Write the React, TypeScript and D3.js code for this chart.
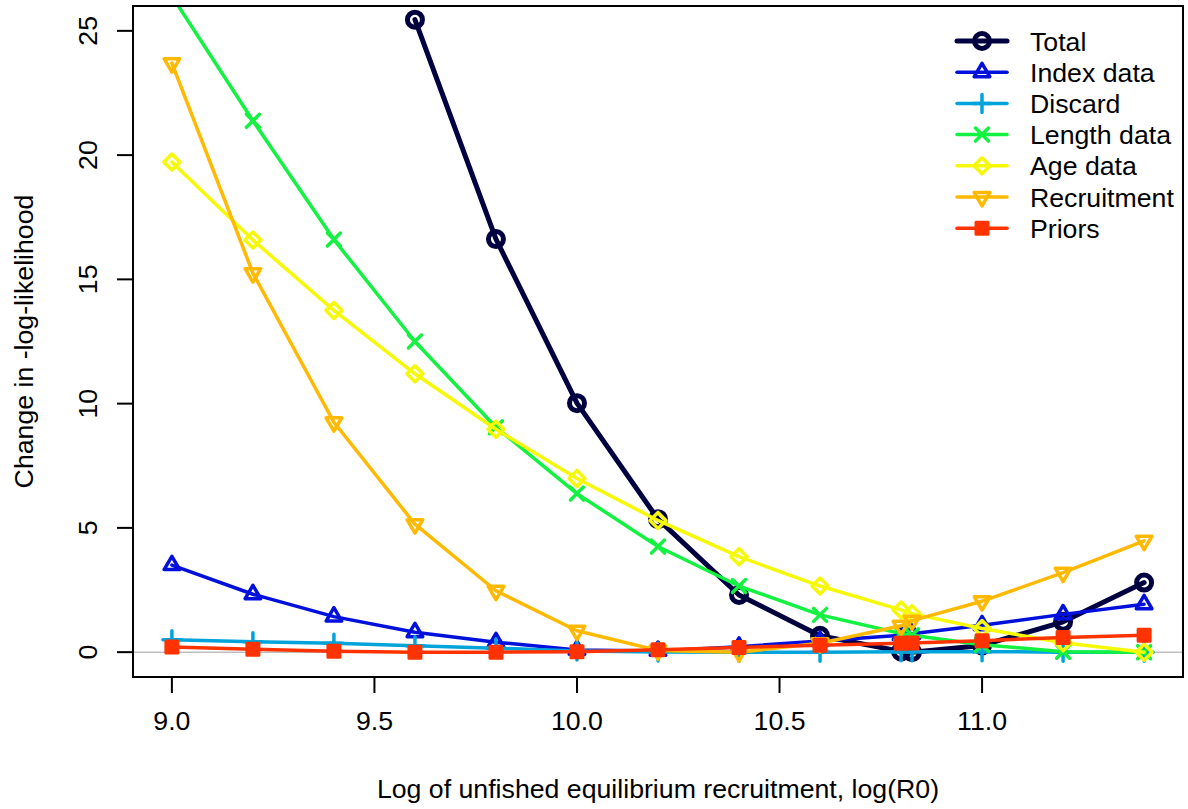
import React from "react";
import * as d3 from "d3";

// ---------- data ----------
const xValues = [9.0, 9.2, 9.4, 9.6, 9.8, 10.0, 10.2, 10.4, 10.6, 10.8, 10.827, 11.0, 11.2, 11.4];

const totalValues: (number | null)[] = [null, null, null, 25.45, 16.62, 10.02, 5.35, 2.3, 0.66, 0.03, 0.0, 0.27, 1.22, 2.8];
const indexValues = [3.5, 2.33, 1.43, 0.8, 0.4, 0.09, 0.05, 0.22, 0.45, 0.68, 0.74, 1.08, 1.52, 1.93];
const discardValues = [0.5, 0.42, 0.36, 0.26, 0.16, 0.05, 0.01, 0.0, 0.0, 0.02, 0.02, 0.02, 0.0, 0.0];
const lengthValues = [26.4, 21.38, 16.6, 12.5, 9.05, 6.38, 4.25, 2.66, 1.5, 0.75, 0.68, 0.3, 0.02, 0.0];
const ageValues = [19.72, 16.58, 13.75, 11.2, 8.97, 6.99, 5.3, 3.84, 2.66, 1.7, 1.55, 0.95, 0.38, 0.0];
const recruitmentValues = [23.7, 15.25, 9.25, 5.15, 2.47, 0.86, 0.07, 0.0, 0.36, 1.06, 1.27, 2.05, 3.2, 4.48];
const priorsValues = [0.21, 0.12, 0.04, 0.0, 0.0, 0.02, 0.1, 0.19, 0.28, 0.36, 0.37, 0.46, 0.59, 0.68];

const seriesNames = ["Total", "Index data", "Discard", "Length data", "Age data", "Recruitment", "Priors"];
const seriesColors = ["#000040", "#0010DB", "#00A4DB", "#13F240", "#F6F905", "#FFB900", "#FF3300"];
const seriesMarkers = ["circle", "triUp", "plus", "cross", "diamond", "triDown", "square"];
const seriesWidths = [5, 3.5, 3.5, 3.5, 3.5, 3.5, 3.5];

const xTicks = [9.0, 9.5, 10.0, 10.5, 11.0];
const yTicks = [0, 5, 10, 15, 20, 25];

const xTitle = "Log of unfished equilibrium recruitment, log(R0)";
const yTitle = "Change in -log-likelihood";

// ---------- layout ----------
const W = 1188;
const H = 809;
const plot = { left: 133, right: 1183, top: 6, bottom: 677 };
const FONT = "'Liberation Sans', Arial, Helvetica, sans-serif";
const FS = 26.7;

const x = d3.scaleLinear().domain([8.904, 11.496]).range([plot.left, plot.right]);
const y = d3.scaleLinear().domain([-1, 26]).range([plot.bottom, plot.top]);

function markerPath(type: string, cx: number, cy: number): string {
  switch (type) {
    case "triUp":
      return `M${cx},${cy - 8.9}L${cx + 7.8},${cy + 4.45}L${cx - 7.8},${cy + 4.45}Z`;
    case "triDown":
      return `M${cx},${cy + 8.9}L${cx + 7.8},${cy - 4.45}L${cx - 7.8},${cy - 4.45}Z`;
    case "plus":
      return `M${cx - 9},${cy}H${cx + 9}M${cx},${cy - 9}V${cy + 9}`;
    case "cross":
      return `M${cx - 6.5},${cy - 6.5}L${cx + 6.5},${cy + 6.5}M${cx - 6.5},${cy + 6.5}L${cx + 6.5},${cy - 6.5}`;
    case "diamond":
      return `M${cx},${cy - 8}L${cx + 8},${cy}L${cx},${cy + 8}L${cx - 8},${cy}Z`;
    case "square":
      return `M${cx - 6},${cy - 6}H${cx + 6}V${cy + 6}H${cx - 6}Z`;
    default:
      return "";
  }
}

function Marker({ type, cx, cy, color, sw }: { type: string; cx: number; cy: number; color: string; sw: number }) {
  if (type === "circle") {
    return <circle cx={cx} cy={cy} r={7.5} fill="none" stroke={color} strokeWidth={sw} />;
  }
  const filled = type === "square";
  return (
    <path
      d={markerPath(type, cx, cy)}
      fill={filled ? color : "none"}
      stroke={color}
      strokeWidth={filled ? 3 : sw}
      strokeLinejoin="round"
      strokeLinecap="round"
    />
  );
}

export default function App() {
  const allSeries = [totalValues, indexValues, discardValues, lengthValues, ageValues, recruitmentValues, priorsValues];

  const line = d3
    .line<[number, number | null]>()
    .defined((d) => d[1] !== null)
    .x((d) => x(d[0]))
    .y((d) => y(d[1] as number));

  const legendX0 = 957;
  const legendX1 = 1007;
  const legendTextX = 1030;
  const legendY0 = 41;
  const legendStep = 31.2;

  return (
    <svg
      width={W}
      height={H}
      style={{ position: "absolute", left: 0, top: 0, background: "#fff" }}
      fontFamily={FONT}
    >
      <rect x={0} y={0} width={W} height={H} fill="#fff" />
      <defs>
        <clipPath id="plotClip">
          <rect x={plot.left} y={plot.top} width={plot.right - plot.left} height={plot.bottom - plot.top} />
        </clipPath>
      </defs>

      {/* zero reference line */}
      <line x1={plot.left} x2={plot.right} y1={y(0)} y2={y(0)} stroke="#BEBEBE" strokeWidth={1.5} />

      {/* series */}
      <g clipPath="url(#plotClip)">
        {allSeries.map((vals, si) => {
          const pts: [number, number | null][] = xValues.map((xv, i) => [xv, vals[i]]);
          return (
            <g key={seriesNames[si]}>
              <path
                d={line(pts) || ""}
                fill="none"
                stroke={seriesColors[si]}
                strokeWidth={seriesWidths[si]}
                strokeLinejoin="round"
                strokeLinecap="round"
              />
              {pts
                .filter((p) => p[1] !== null)
                .map((p, i) => (
                  <Marker
                    key={i}
                    type={seriesMarkers[si]}
                    cx={x(p[0])}
                    cy={y(p[1] as number)}
                    color={seriesColors[si]}
                    sw={seriesWidths[si]}
                  />
                ))}
            </g>
          );
        })}
      </g>

      {/* frame */}
      <rect
        x={plot.left}
        y={plot.top}
        width={plot.right - plot.left}
        height={plot.bottom - plot.top}
        fill="none"
        stroke="#000"
        strokeWidth={2}
      />

      {/* x axis */}
      {xTicks.map((t) => (
        <g key={"xt" + t}>
          <line x1={x(t)} x2={x(t)} y1={plot.bottom} y2={plot.bottom + 16} stroke="#000" strokeWidth={2} />
          <text x={x(t)} y={730} fontSize={FS} textAnchor="middle" fill="#000">
            {t.toFixed(1)}
          </text>
        </g>
      ))}

      {/* y axis */}
      {yTicks.map((t) => (
        <g key={"yt" + t}>
          <line x1={plot.left - 16} x2={plot.left} y1={y(t)} y2={y(t)} stroke="#000" strokeWidth={2} />
          <text
            transform={`translate(97,${y(t)}) rotate(-90)`}
            fontSize={FS}
            textAnchor="middle"
            fill="#000"
          >
            {t}
          </text>
        </g>
      ))}

      {/* titles */}
      <text x={(plot.left + plot.right) / 2} y={798} fontSize={FS} textAnchor="middle" fill="#000">
        {xTitle}
      </text>
      <text
        transform={`translate(33,${(plot.top + plot.bottom) / 2}) rotate(-90)`}
        fontSize={FS}
        textAnchor="middle"
        fill="#000"
      >
        {yTitle}
      </text>

      {/* legend */}
      {seriesNames.map((name, i) => {
        const ly = legendY0 + i * legendStep;
        return (
          <g key={"lg" + name}>
            <line
              x1={legendX0}
              x2={legendX1}
              y1={ly}
              y2={ly}
              stroke={seriesColors[i]}
              strokeWidth={seriesWidths[i]}
              strokeLinecap="round"
            />
            <Marker
              type={seriesMarkers[i]}
              cx={(legendX0 + legendX1) / 2}
              cy={ly}
              color={seriesColors[i]}
              sw={seriesWidths[i]}
            />
            <text x={legendTextX} y={ly + 9.5} fontSize={FS} fill="#000">
              {name}
            </text>
          </g>
        );
      })}
    </svg>
  );
}
